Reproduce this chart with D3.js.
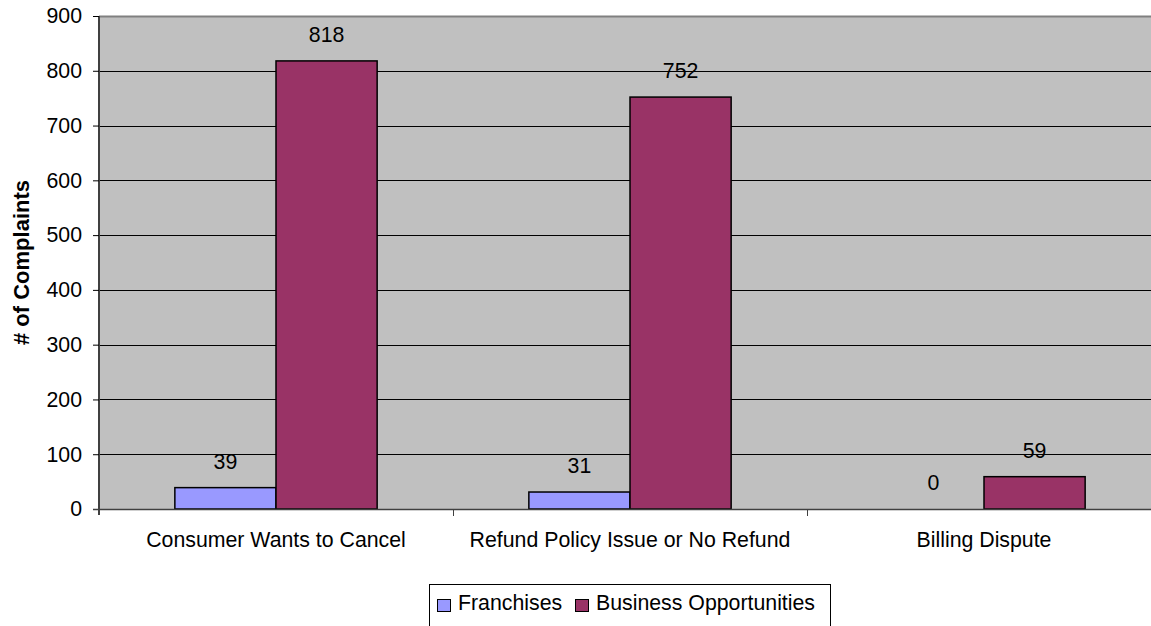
<!DOCTYPE html>
<html>
<head>
<meta charset="utf-8">
<script src="https://cdn.jsdelivr.net/npm/d3@7"></script>
<style>
  html, body { margin: 0; padding: 0; background: #fff; overflow: hidden; }
  svg { display: block; font-family: Arial, "Liberation Sans", sans-serif; }
</style>
</head>
<body>
<svg id="chart" width="1151" height="626"></svg>
<script>
// Complaint categories and counts per series
const categories = ["Consumer Wants to Cancel", "Refund Policy Issue or No Refund", "Billing Dispute"];
const seriesNames = ["Franchises", "Business Opportunities"];
const franchises = [39, 31, 0];
const businessOpportunities = [818, 752, 59];
const yTicks = [0, 100, 200, 300, 400, 500, 600, 700, 800, 900];
const colors = ["#9999FF", "#993366"];

const seriesValues = [franchises, businessOpportunities];
const FONT = 21.3;

const svg = d3.select("#chart");
const plot = { left: 99, right: 1161, top: 16, bottom: 509 };

const x0 = d3.scaleBand().domain(categories).range([plot.left, plot.right]).paddingInner(0).paddingOuter(0);
const x1 = d3.scaleBand().domain(seriesNames).range([0, x0.bandwidth()]).paddingInner(0).paddingOuter(0.75);
const y = d3.scaleLinear().domain([0, 900]).range([plot.bottom, plot.top]);

// plot background
svg.append("rect")
  .attr("x", plot.left).attr("y", plot.top)
  .attr("width", plot.right - plot.left).attr("height", plot.bottom - plot.top)
  .attr("fill", "#C0C0C0");

// horizontal gridlines
svg.append("g").selectAll("line")
  .data(yTicks.filter(t => t > 0 && t < 900))
  .join("line")
  .attr("x1", plot.left).attr("x2", plot.right)
  .attr("y1", d => Math.round(y(d)) + 0.5).attr("y2", d => Math.round(y(d)) + 0.5)
  .attr("stroke", "#000").attr("stroke-width", 1);

// top border of the plot area
svg.append("line")
  .attr("x1", plot.left).attr("x2", plot.right)
  .attr("y1", plot.top + 0.5).attr("y2", plot.top + 0.5)
  .attr("stroke", "#808080").attr("stroke-width", 2);

// bars
const groups = svg.append("g").selectAll("g")
  .data(categories)
  .join("g")
  .attr("transform", d => `translate(${x0(d)},0)`);

groups.selectAll("rect")
  .data((c, i) => seriesNames.map((s, j) => ({ s, v: seriesValues[j][i], j })))
  .join("rect")
  .attr("x", d => x1(d.s))
  .attr("y", d => y(d.v))
  .attr("width", x1.bandwidth())
  .attr("height", d => y(0) - y(d.v))
  .attr("fill", d => colors[d.j])
  .attr("stroke", "#000")
  .attr("stroke-width", d => d.v > 0 ? 1.5 : 0);

// value labels
groups.selectAll("text")
  .data((c, i) => seriesNames.map((s, j) => ({ s, v: seriesValues[j][i] })))
  .join("text")
  .attr("x", d => x1(d.s) + x1.bandwidth() / 2)
  .attr("y", d => y(d.v) - 19)
  .attr("text-anchor", "middle")
  .attr("font-size", FONT)
  .attr("fill", "#000")
  .text(d => d.v);

// y axis
const yAxis = d3.axisLeft(y).tickValues(yTicks).tickSize(6).tickPadding(11);
const gy = svg.append("g").attr("transform", `translate(${plot.left},0)`).call(yAxis);
gy.select(".domain").attr("stroke", "#404040").attr("stroke-width", 2).attr("d", `M0,${plot.top}V${plot.bottom + 6}`);
gy.selectAll(".tick line").attr("stroke", "#000");
gy.selectAll(".tick text").attr("font-size", FONT).attr("font-family", "Arial, 'Liberation Sans', sans-serif").attr("fill", "#000");

// x axis with boundary ticks between categories
const gx = svg.append("g");
gx.append("line")
  .attr("x1", plot.left - 6).attr("x2", plot.right)
  .attr("y1", plot.bottom + 0.5).attr("y2", plot.bottom + 0.5)
  .attr("stroke", "#404040").attr("stroke-width", 1.5);
gx.selectAll("line.tk")
  .data(categories.slice(1))
  .join("line")
  .attr("class", "tk")
  .attr("x1", d => x0(d) + 0.5).attr("x2", d => x0(d) + 0.5)
  .attr("y1", plot.bottom).attr("y2", plot.bottom + 7)
  .attr("stroke", "#404040");
gx.selectAll("text")
  .data(categories)
  .join("text")
  .attr("x", d => x0(d) + x0.bandwidth() / 2)
  .attr("y", 547)
  .attr("text-anchor", "middle")
  .attr("font-size", FONT)
  .attr("fill", "#000")
  .text(d => d);

// y axis title
svg.append("text")
  .attr("transform", `translate(29,${(plot.top + plot.bottom) / 2}) rotate(-90)`)
  .attr("text-anchor", "middle")
  .attr("font-size", 22)
  .attr("font-weight", "bold")
  .text("# of Complaints");

// legend
const legend = svg.append("g");
legend.append("rect")
  .attr("x", 429.5).attr("y", 584.5).attr("width", 401).attr("height", 60)
  .attr("fill", "#fff").attr("stroke", "#000").attr("stroke-width", 1);
const legendItems = [{ name: seriesNames[0], x: 437 }, { name: seriesNames[1], x: 575 }];
legendItems.forEach((it, i) => {
  legend.append("rect")
    .attr("x", it.x + 0.5).attr("y", 599.5).attr("width", 13).attr("height", 12)
    .attr("fill", colors[i]).attr("stroke", "#000").attr("stroke-width", 1);
  legend.append("text")
    .attr("x", it.x + 21).attr("y", 610)
    .attr("font-size", 21.3)
    .text(it.name);
});
</script>
</body>
</html>
